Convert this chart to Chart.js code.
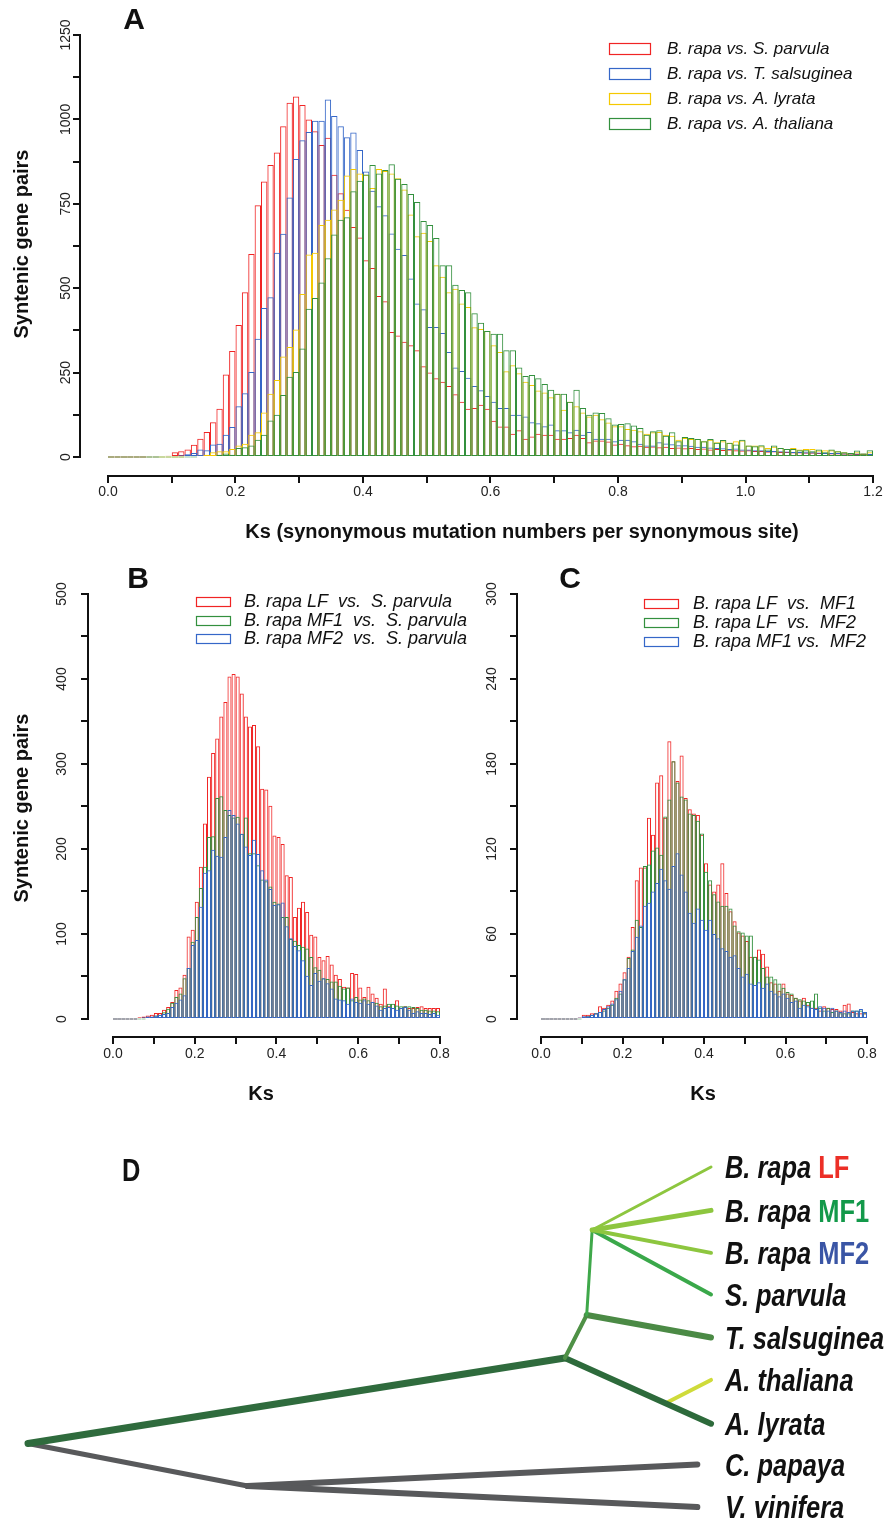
<!DOCTYPE html>
<html>
<head>
<meta charset="utf-8">
<title>Ks distributions of syntenic gene pairs and phylogeny</title>
<script src="https://cdn.jsdelivr.net/npm/chart.js@4.4.1/dist/chart.umd.min.js"></script>
<style>
  html, body { margin: 0; padding: 0; background: #ffffff; }
  #fig { position: relative; width: 889px; height: 1519px; overflow: hidden; background: #ffffff; }
  .panel { position: absolute; }
</style>
</head>
<body>
<div id="fig">
  <div class="panel" style="left:0;top:0;width:889px;height:560px;"><canvas id="chartA"></canvas></div>
  <div class="panel" style="left:0;top:560px;width:500px;height:560px;"><canvas id="chartB"></canvas></div>
  <div class="panel" style="left:455px;top:560px;width:434px;height:560px;"><canvas id="chartC"></canvas></div>
  <div class="panel" style="left:0;top:1120px;width:889px;height:399px;"><canvas id="chartD"></canvas></div>
</div>
<script>
// ---------------- data ----------------
const KS_BIN_WIDTH = 0.01;

// Panel A (bins of 0.01 from 0 to 1.2)
const A_NAMES = ['B. rapa vs. S. parvula', 'B. rapa vs. T. salsuginea', 'B. rapa vs. A. lyrata', 'B. rapa vs. A. thaliana'];
const A_S_PARVULA = [0,0,0,0,0,0,2,2,3,4,
  14,17,22,36,54,74,103,143,244,314,
  391,488,601,746,816,865,902,980,1049,1068,
  1043,1000,965,924,946,836,781,732,681,650,
  583,560,477,461,370,360,341,331,316,269,
  250,233,223,210,186,164,143,145,155,143,
  107,90,90,69,79,54,61,69,66,66,
  54,54,56,66,56,44,49,49,46,37,
  39,35,32,33,30,31,29,30,27,28,
  26,27,24,25,22,24,21,22,20,19,
  20,18,18,16,17,15,15,14,14,13,
  13,12,12,11,11,10,10,9,9,8];
const A_T_SALSUGINEA = [0,0,0,0,0,0,0,0,1,2,
  3,5,8,12,22,20,37,39,66,89,
  150,189,252,350,441,473,605,661,769,883,
  938,963,996,996,1059,1010,980,947,961,909,
  846,789,743,716,662,617,598,529,455,438,
  385,385,367,311,265,255,235,210,198,181,
  164,145,145,125,125,120,103,100,91,96,
  79,79,73,81,66,74,54,54,54,47,
  51,51,47,39,34,34,44,40,38,35,
  35,33,30,30,28,27,26,24,25,22,
  22,20,20,18,18,17,16,15,15,14,
  14,13,12,12,12,11,11,10,10,9];
const A_A_LYRATA = [0,0,0,0,0,0,0,0,0,0,
  0,0,1,2,4,7,14,17,17,24,
  34,39,66,73,132,187,228,298,326,378,
  483,600,605,687,703,733,762,834,853,840,
  836,797,853,847,840,826,792,718,654,664,
  640,568,534,488,498,455,444,384,379,373,
  331,311,254,272,248,223,213,197,191,177,
  187,140,164,150,132,120,125,112,102,91,
  91,83,81,76,69,73,74,66,63,51,
  56,53,53,47,51,44,47,42,47,49,
  34,34,32,27,30,27,24,27,22,24,
  24,19,20,20,17,14,12,14,10,14];
const A_A_THALIANA = [0,0,0,0,0,0,0,0,0,0,
  0,0,0,0,1,1,2,7,10,7,
  27,29,34,51,66,108,125,184,238,252,
  321,439,471,517,589,659,703,710,787,818,
  837,865,840,850,867,824,809,779,755,699,
  687,649,568,568,510,495,488,426,398,373,
  365,365,316,316,265,240,243,233,216,199,
  187,187,164,199,145,125,132,130,115,96,
  98,100,93,86,66,76,79,63,73,47,
  59,56,53,47,53,42,50,42,37,51,
  34,32,35,22,34,27,24,24,20,20,
  17,22,14,22,17,14,12,19,10,20];
const A_X_TICKS = [0, 0.1, 0.2, 0.3, 0.4, 0.5, 0.6, 0.7, 0.8, 0.9, 1.0, 1.1, 1.2];
const A_X_LABELS = ['0.0', '', '0.2', '', '0.4', '', '0.6', '', '0.8', '', '1.0', '', '1.2'];
const A_Y_TICKS = [0, 125, 250, 375, 500, 625, 750, 875, 1000, 1125, 1250];
const A_Y_LABELS = ['0', '', '250', '', '500', '', '750', '', '1000', '', '1250'];

// Panel B (bins of 0.01 from 0 to 0.8)
const B_NAMES = ['B. rapa LF  vs.  S. parvula', 'B. rapa MF1  vs.  S. parvula', 'B. rapa MF2  vs.  S. parvula'];
const B_LF = [0,0,0,0,0,0,2,3,4,5,
  7,7,11,14,20,34,37,52,97,105,
  138,179,230,285,313,330,356,373,403,406,
  403,383,356,344,346,321,271,270,251,216,
  214,206,169,167,120,131,138,126,99,97,
  73,69,74,64,52,47,38,37,54,53,
  37,26,38,30,25,18,36,15,13,22,
  13,15,13,13,14,15,13,13,13,13];
const B_MF1 = [0,0,0,0,0,0,0,0,1,2,
  4,5,8,12,19,26,30,48,60,91,
  120,154,179,214,215,260,262,246,240,237,
  238,218,237,195,195,181,164,162,156,138,
  136,120,120,94,92,87,85,83,73,61,
  58,48,47,44,44,39,36,37,22,26,
  23,24,22,20,19,15,16,18,18,16,
  15,15,15,14,13,11,11,10,10,9];
const B_MF2 = [0,0,0,0,0,0,1,2,3,3,
  4,5,6,7,14,19,23,28,60,87,
  93,132,172,175,199,192,191,214,246,240,
  230,218,203,193,211,194,175,164,153,134,
  135,137,109,95,86,81,69,51,40,54,
  45,48,42,36,24,23,22,18,24,20,
  19,22,18,20,16,11,13,14,13,11,
  13,14,11,7,9,7,7,6,7,5];
const BC_X_TICKS = [0, 0.1, 0.2, 0.3, 0.4, 0.5, 0.6, 0.7, 0.8];
const BC_X_LABELS = ['0.0', '', '0.2', '', '0.4', '', '0.6', '', '0.8'];
const B_Y_TICKS = [0, 50, 100, 150, 200, 250, 300, 350, 400, 450, 500];
const B_Y_LABELS = ['0', '', '100', '', '200', '', '300', '', '400', '', '500'];

// Panel C
const C_NAMES = ['B. rapa LF  vs.  MF1', 'B. rapa LF  vs.  MF2', 'B. rapa MF1 vs.  MF2'];
const C_LF_MF1 = [0,0,0,0,0,0,0,0,0,1,
  3,3,4,4,9,8,10,13,20,25,
  33,44,65,98,107,107,142,130,167,172,
  142,196,182,168,186,156,148,145,144,130,
  110,95,90,95,110,89,76,69,61,59,
  55,44,44,49,46,37,26,25,20,25,
  18,17,15,13,15,10,8,8,6,9,
  8,7,7,6,10,11,5,4,4,4];
const C_LF_MF2 = [0,0,0,0,0,0,0,0,0,0,
  1,2,3,4,5,6,8,10,15,18,
  28,43,49,70,65,108,109,119,121,116,
  143,155,182,167,157,155,145,144,140,131,
  104,98,88,83,80,80,78,66,62,61,
  59,59,44,42,36,30,30,28,25,22,
  19,18,15,14,13,12,13,18,8,6,
  8,5,6,4,4,4,6,6,6,4];
const C_MF1_MF2 = [0,0,0,0,0,0,0,0,0,1,
  2,2,3,4,5,7,9,11,14,20,
  28,36,48,58,66,80,82,90,96,106,
  98,92,108,117,102,90,75,68,78,70,
  63,70,60,57,50,48,44,45,36,30,
  32,25,24,26,22,25,20,18,16,18,
  15,12,13,8,10,9,8,7,9,8,
  6,8,6,5,6,5,6,6,7,5];
const C_Y_TICKS = [0, 30, 60, 90, 120, 150, 180, 210, 240, 270, 300];
const C_Y_LABELS = ['0', '', '60', '', '120', '', '180', '', '240', '', '300'];

// Panel D: tree (depth 0 = root, 1 = present; row = leaf order from top)
const TREE_NODE_IDS   = ['root', 'n0', 'n1', 'n2', 'n3', 'thalJ', 'LF', 'MF1', 'MF2', 'Spar', 'Tsal', 'Athal', 'Alyr', 'Cpap', 'Vvin'];
const TREE_NODE_DEPTH = [0, 0.3215, 0.786, 0.818, 0.826, 0.9335, 1, 1, 1, 1, 1, 1, 1, 0.98, 0.98];
const TREE_NODE_ROW   = [7.506, 8.506, 5.494, 4.482, 2.482, 6.56, 1, 2.02, 3.02, 4.0, 5.01, 6.01, 7.04, 8.0, 9.0];
const TREE_EDGE_FROM  = ['root', 'n0', 'n0', 'root', 'thalJ', 'n1', 'n1', 'n2', 'n2', 'n3', 'n3', 'n3', 'n3'];
const TREE_EDGE_TO    = ['n0', 'Cpap', 'Vvin', 'n1', 'Athal', 'Alyr', 'n2', 'Tsal', 'n3', 'Spar', 'LF', 'MF1', 'MF2'];
const TREE_LEAVES     = ['LF', 'MF1', 'MF2', 'Spar', 'Tsal', 'Athal', 'Alyr', 'Cpap', 'Vvin'];
const TREE_LEAF_NAMES = ['B. rapa', 'B. rapa', 'B. rapa', 'S. parvula', 'T. salsuginea', 'A. thaliana', 'A. lyrata', 'C. papaya', 'V. vinifera'];
const TREE_LEAF_TAGS  = ['LF', 'MF1', 'MF2', '', '', '', '', '', ''];

// ---------------- styles ----------------
const FONT = "'Liberation Sans', Arial, Helvetica, sans-serif";
const INK = '#111111';
const TICK_LEN = 7;
const TICK_FONT_SIZE = 14;
const RED = '#f02424', BLUE = '#3567c8', GOLD = '#f5c800', GREEN = '#33903e';
const EDGE_COLORS = ['#58595b', '#58595b', '#58595b', '#2f6b3d', '#cfdb3a', '#2d6a3b', '#4f9146', '#4b8a45', '#3fa84a', '#3aa84a', '#8dc63f', '#8dc63f', '#8dc63f'];
const EDGE_WIDTHS = [5, 6, 6, 7, 4, 6, 4, 6, 3, 4, 3, 5, 4];
const TAG_COLORS = { LF: '#ec2f27', MF1: '#13994a', MF2: '#3a55a5' };

Chart.defaults.font.family = FONT;

function measureText(font, text) {
  const c = document.createElement('canvas').getContext('2d');
  c.font = font;
  return c.measureText(text).width;
}
function binCentres(n) {
  const out = [];
  for (let i = 0; i < n; i++) out.push(Math.round((i + 0.5) * KS_BIN_WIDTH * 1e4) / 1e4);
  return out;
}

// R-like decorations: axis lines spanning first..last tick, titles, letter, legend
const rStylePlugin = {
  id: 'rStyle',
  afterDraw(chart, args, o) {
    const ctx = chart.ctx, ca = chart.chartArea;
    const xs = chart.scales.x, ys = chart.scales.y;
    const xt = xs.ticks, yt = ys.ticks;
    ctx.save();
    ctx.strokeStyle = INK; ctx.lineWidth = 2; ctx.lineCap = 'square';
    ctx.beginPath();
    ctx.moveTo(xs.getPixelForValue(xt[0].value), ca.bottom);
    ctx.lineTo(xs.getPixelForValue(xt[xt.length - 1].value), ca.bottom);
    ctx.moveTo(ca.left, ys.getPixelForValue(yt[0].value));
    ctx.lineTo(ca.left, ys.getPixelForValue(yt[yt.length - 1].value));
    ctx.stroke();

    ctx.fillStyle = INK;
    ctx.textAlign = 'center'; ctx.textBaseline = 'middle';
    ctx.font = `bold 30px ${FONT}`;
    ctx.fillText(o.letter.text, o.letter.x, o.letter.y);

    ctx.font = `bold 20px ${FONT}`;
    ctx.fillText(o.xTitle.text, o.xTitle.x, o.xTitle.y);
    if (o.yTitle) {
      ctx.save();
      ctx.translate(o.yTitle.x, o.yTitle.y);
      ctx.rotate(-Math.PI / 2);
      ctx.fillText(o.yTitle.text, 0, 0);
      ctx.restore();
    }

    const L = o.legend;
    ctx.font = `italic ${L.size}px ${FONT}`;
    ctx.textAlign = 'left';
    chart.data.datasets.forEach((ds, i) => {
      const y = L.rows[i];
      ctx.strokeStyle = ds.borderColor; ctx.lineWidth = 1.2;
      ctx.strokeRect(L.boxX + 0.5, Math.round(y - L.boxH / 2) + 0.5, L.boxW, L.boxH);
      ctx.fillStyle = INK;
      ctx.fillText(ds.label, L.textX, y + 1);
    });
    ctx.restore();
  }
};

function histChart(id, p) {
  const tickFont = { family: FONT, size: TICK_FONT_SIZE };
  const widest = Math.max(...p.yLabels.map(t => measureText(`${TICK_FONT_SIZE}px ${FONT}`, t)));
  const grid = { display: true, drawOnChartArea: false, drawTicks: true, tickLength: TICK_LEN, color: INK, lineWidth: 2 };
  return new Chart(document.getElementById(id), {
    type: 'bar',
    data: {
      labels: binCentres(p.series[0].length),
      datasets: p.series.map((vals, i) => ({
        label: p.names[i],
        data: vals,
        borderColor: p.colors[i],
        backgroundColor: 'rgba(255,255,255,0)',
        borderWidth: 1,
        borderSkipped: false,
        inflateAmount: 0,
        minBarLength: 1,
        grouped: false,
        barPercentage: 1,
        categoryPercentage: 1,
        order: p.series.length - i
      }))
    },
    options: {
      responsive: true, maintainAspectRatio: false, animation: false, events: [],
      layout: { padding: { left: 0, top: p.top, right: p.padRight, bottom: 0 } },
      plugins: {
        legend: { display: false }, tooltip: { enabled: false },
        rStyle: p.deco
      },
      scales: {
        x: {
          type: 'linear', position: 'bottom', min: p.xMin, max: p.xMax, offset: false,
          afterFit: s => { s.height = p.xAxisH; },
          afterBuildTicks: s => { s.ticks = p.xTicks.map(v => ({ value: v })); },
          grid: Object.assign({ offset: false }, grid), border: { display: false },
          ticks: { autoSkip: false, maxRotation: 0, minRotation: 0, padding: p.xPad, font: tickFont, color: '#222',
                   callback: (v, i) => p.xLabels[i] }
        },
        y: {
          type: 'linear', position: 'left', min: p.yMin, max: p.yMax,
          afterFit: s => { s.width = p.yAxisW; },
          afterBuildTicks: s => { s.ticks = p.yTicks.map(v => ({ value: v })); },
          grid: grid, border: { display: false },
          ticks: { autoSkip: false, minRotation: 90, maxRotation: 90, crossAlign: 'center',
                   padding: p.yLabelOffset - TICK_LEN - widest / 2, font: tickFont, color: '#222',
                   callback: (v, i) => p.yLabels[i] }
        }
      }
    },
    plugins: [rStylePlugin]
  });
}

histChart('chartA', {
  series: [A_S_PARVULA, A_T_SALSUGINEA, A_A_LYRATA, A_A_THALIANA],
  names: A_NAMES, colors: [RED, BLUE, GOLD, GREEN],
  top: 30, padRight: 9, xAxisH: 84, yAxisW: 80,
  xMin: -0.04392, xMax: 1.21098, yMin: -56.3, yMax: 1264.8,
  xTicks: A_X_TICKS, xLabels: A_X_LABELS, yTicks: A_Y_TICKS, yLabels: A_Y_LABELS,
  xPad: 1, yLabelOffset: 14,
  deco: {
    letter: { text: 'A', x: 134, y: 21 },
    xTitle: { text: 'Ks (synonymous mutation numbers per synonymous site)', x: 522, y: 532 },
    yTitle: { text: 'Syntenic gene pairs', x: 22, y: 244 },
    legend: { boxX: 609, boxW: 41, boxH: 11, textX: 667, rows: [48, 73, 98, 123], size: 17 }
  }
});

histChart('chartB', {
  series: [B_LF, B_MF1, B_MF2],
  names: B_NAMES, colors: [RED, GREEN, BLUE],
  top: 30, padRight: 52, xAxisH: 83, yAxisW: 88,
  xMin: -0.06116, xMax: 0.81957, yMin: -21.18, yMax: 504.7,
  xTicks: BC_X_TICKS, xLabels: BC_X_LABELS, yTicks: B_Y_TICKS, yLabels: B_Y_LABELS,
  xPad: 2, yLabelOffset: 26,
  deco: {
    letter: { text: 'B', x: 138, y: 20 },
    xTitle: { text: 'Ks', x: 261, y: 534 },
    yTitle: { text: 'Syntenic gene pairs', x: 22, y: 248 },
    legend: { boxX: 196, boxW: 34, boxH: 9, textX: 244, rows: [41, 60, 78], size: 18 }
  }
});

histChart('chartC', {
  series: [C_LF_MF1, C_LF_MF2, C_MF1_MF2],
  names: C_NAMES, colors: [RED, GREEN, BLUE],
  top: 30, padRight: 14, xAxisH: 83, yAxisW: 62,
  xMin: -0.0589, xMax: 0.8196, yMin: -12.71, yMax: 302.82,
  xTicks: BC_X_TICKS, xLabels: BC_X_LABELS, yTicks: C_Y_TICKS, yLabels: C_Y_LABELS,
  xPad: 2, yLabelOffset: 25,
  deco: {
    letter: { text: 'C', x: 115, y: 20 },
    xTitle: { text: 'Ks', x: 248, y: 534 },
    legend: { boxX: 189, boxW: 34, boxH: 9, textX: 238, rows: [43, 62, 81], size: 18 }
  }
});

// ---------------- Panel D: tree ----------------
const nodeIndex = id => TREE_NODE_IDS.indexOf(id);
const nodePoint = id => ({ x: TREE_NODE_DEPTH[nodeIndex(id)], y: TREE_NODE_ROW[nodeIndex(id)] });

function drawCondensed(ctx, text, x, y, font, color) {
  ctx.save();
  ctx.translate(x, y);
  ctx.scale(0.82, 1);
  ctx.font = font;
  ctx.fillStyle = color;
  ctx.fillText(text, 0, 0);
  const w = ctx.measureText(text).width * 0.82;
  ctx.restore();
  return w;
}

const treeLabelsPlugin = {
  id: 'treeLabels',
  afterDraw(chart, args, o) {
    const ctx = chart.ctx, xs = chart.scales.x, ys = chart.scales.y;
    ctx.save();
    ctx.textAlign = 'left'; ctx.textBaseline = 'alphabetic';
    drawCondensed(ctx, 'D', o.letterX, o.letterY, `bold 31px ${FONT}`, INK);
    const italic = `italic bold ${o.size}px ${FONT}`;
    const upright = `bold ${o.size}px ${FONT}`;
    TREE_LEAVES.forEach((id, k) => {
      const x = xs.getPixelForValue(1) + o.gap;
      const y = ys.getPixelForValue(TREE_NODE_ROW[nodeIndex(id)]) + o.size * 0.36;
      let w = drawCondensed(ctx, TREE_LEAF_NAMES[k], x, y, italic, INK);
      const tag = TREE_LEAF_TAGS[k];
      if (tag) {
        w += measureText(upright, ' ') * 0.82;
        drawCondensed(ctx, tag, x + w, y, upright, TAG_COLORS[tag]);
      }
    });
    ctx.restore();
  }
};

new Chart(document.getElementById('chartD'), {
  type: 'scatter',
  data: {
    datasets: TREE_EDGE_FROM.map((from, i) => ({
      label: from + '-' + TREE_EDGE_TO[i],
      data: [nodePoint(from), nodePoint(TREE_EDGE_TO[i])],
      showLine: true, pointRadius: 0, fill: false, tension: 0,
      borderColor: EDGE_COLORS[i], borderWidth: EDGE_WIDTHS[i],
      borderCapStyle: 'round', borderJoinStyle: 'round',
      clip: false,
      order: TREE_EDGE_FROM.length - i
    }))
  },
  options: {
    responsive: true, maintainAspectRatio: false, animation: false, events: [],
    layout: { padding: { left: 28, right: 178, top: 47, bottom: 12 } },
    plugins: {
      legend: { display: false }, tooltip: { enabled: false },
      treeLabels: { letterX: 122, letterY: 61, size: 31, gap: 14 }
    },
    scales: {
      x: { type: 'linear', min: 0, max: 1, display: false },
      y: { type: 'linear', min: 1, max: 9, reverse: true, display: false }
    }
  },
  plugins: [treeLabelsPlugin]
});
</script>
</body>
</html>
